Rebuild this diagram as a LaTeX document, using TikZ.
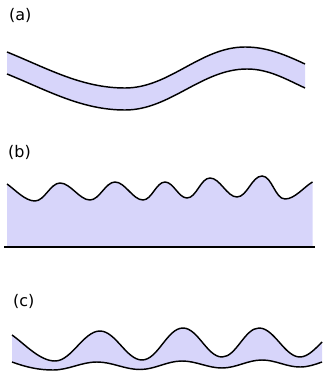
\documentclass[tikz,border=0pt]{standalone}
\usepackage{fontspec}
\setmainfont{DejaVu Sans}
\definecolor{bandfill}{RGB}{215,213,250}
\begin{document}
\begin{tikzpicture}[x=1pt,y=1pt,
  filmfill/.style={fill=bandfill,draw=none},
  edge/.style={draw=black,line width=1.45pt},
  lbl/.style={anchor=base west,inner sep=0pt,font=\fontsize{16}{19}\selectfont}]
\useasboundingbox (0,0) rectangle (322,-371);
% (a)
\node[lbl] (la) at (9,-21) {(a)};
\begin{scope}[looseness=0.9]
\fill[filmfill] (7,-52) to[out=-22,in=180] (125,-88) to[out=0,in=180] (245,-47) to[out=0,in=155] (305,-64)
  -- (305,-88) to[out=155,in=0] (247,-69) to[out=180,in=0] (125,-110) to[out=180,in=-22] (7,-74) -- cycle;
\draw[edge] (7,-52) to[out=-22,in=180] (125,-88) to[out=0,in=180] (245,-47) to[out=0,in=155] (305,-64);
\draw[edge] (7,-74) to[out=-22,in=180] (125,-110) to[out=0,in=180] (247,-69) to[out=0,in=155] (305,-88);
\end{scope}
% (b)
\node[lbl] (lb) at (8,-158) {(b)};
\begin{scope}[looseness=0.78]
\fill[filmfill] (7,-184) to[out=-35,in=180] (35,-201) to[out=0,in=180] (60,-183) to[out=0,in=180] (90,-200)
  to[out=0,in=180] (115,-182) to[out=0,in=180] (143,-200) to[out=0,in=180] (165,-182) to[out=0,in=180] (187,-198)
  to[out=0,in=180] (210,-178) to[out=0,in=180] (237,-197) to[out=0,in=180] (262,-176) to[out=0,in=180] (285,-199)
  to[out=0,in=-150] (312.5,-182) -- (312.5,-247) -- (7,-247) -- cycle;
\draw[edge] (7,-184) to[out=-35,in=180] (35,-201) to[out=0,in=180] (60,-183) to[out=0,in=180] (90,-200)
  to[out=0,in=180] (115,-182) to[out=0,in=180] (143,-200) to[out=0,in=180] (165,-182) to[out=0,in=180] (187,-198)
  to[out=0,in=180] (210,-178) to[out=0,in=180] (237,-197) to[out=0,in=180] (262,-176) to[out=0,in=180] (285,-199)
  to[out=0,in=-150] (312.5,-182);
\end{scope}
\draw[edge] (4,-247) -- (315,-247);
% (c)
\node[lbl] (lc) at (13,-306) {(c)};
\begin{scope}[looseness=0.78]
\fill[filmfill] (12,-335) to[out=-35,in=180] (55,-361) to[out=0,in=180] (100,-331) to[out=0,in=180] (142,-360)
  to[out=0,in=180] (183,-328) to[out=0,in=180] (222,-357) to[out=0,in=180] (259,-328) to[out=0,in=180] (300,-357)
  to[out=0,in=-135] (322,-342) -- (322,-362)
  to[out=-160,in=0,looseness=0.9] (300,-367) to[out=180,in=0,looseness=0.9] (262,-360) to[out=180,in=0,looseness=0.9] (222,-368) to[out=180,in=0,looseness=0.9] (182,-361)
  to[out=180,in=0,looseness=0.9] (140,-369.5) to[out=180,in=0,looseness=0.9] (97,-362) to[out=180,in=0,looseness=0.9] (53,-370) to[out=180,in=-20,looseness=0.9] (12,-362) -- cycle;
\draw[edge] (12,-335) to[out=-35,in=180] (55,-361) to[out=0,in=180] (100,-331) to[out=0,in=180] (142,-360)
  to[out=0,in=180] (183,-328) to[out=0,in=180] (222,-357) to[out=0,in=180] (259,-328) to[out=0,in=180] (300,-357)
  to[out=0,in=-135] (322,-342);
\end{scope}
\begin{scope}[looseness=0.9]
\draw[edge] (12,-362) to[out=-20,in=180] (53,-370) to[out=0,in=180] (97,-362) to[out=0,in=180] (140,-369.5)
  to[out=0,in=180] (182,-361) to[out=0,in=180] (222,-368) to[out=0,in=180] (262,-360) to[out=0,in=180] (300,-367)
  to[out=0,in=-160] (322,-362);
\end{scope}
\end{tikzpicture}
\end{document}
